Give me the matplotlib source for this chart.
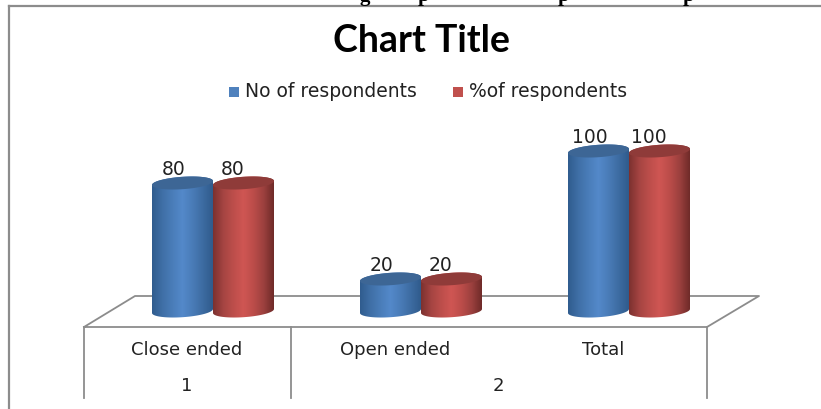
import matplotlib
matplotlib.use("Agg")
import matplotlib.pyplot as plt
import numpy as np
from matplotlib.colors import LinearSegmentedColormap
from matplotlib.patches import PathPatch, Rectangle
from matplotlib.path import Path

categories = ["Close ended", "Open ended", "Total"]
groups = ["1", "2"]
series_names = ["No of respondents", "%of respondents"]
no_of_respondents = [80, 20, 100]
pct_of_respondents = [80, 20, 100]

W, H = 821, 409
GREY = "#8c8c8c"
TXT = "#222222"

# 1 value unit = 1.6 px, value 0 sits at pixel row 311
PX = 1.6
Y0 = 311


def vy(row):  # pixel row to value axis
	return (Y0 - row) / PX


fig = plt.figure(figsize=(W / 100, H / 100), dpi=100)
ax = fig.add_axes([0, 0, 1, 1])
ax.axis("off")

blue = LinearSegmentedColormap.from_list("b", ["#305c8e", "#3f6fa6", "#4a7db9", "#5489ca", "#4a7cb8", "#3d6ca2", "#305b8c"])
red = LinearSegmentedColormap.from_list("r", ["#7c312f", "#a54442", "#bd4e4b", "#cf5653", "#bc4d4a", "#9c403e", "#6f2b29"])
grad = np.linspace(0, 1, 128).reshape(1, -1)


def cylinder(cx, value, cmap, top_color):
	rx, ry, tilt = 30.5, 6.2 / PX, 2.0 / PX  # half width in px, rest in value units
	t = np.linspace(0, 2 * np.pi, 90)
	# side wall: bottom half of base ellipse then back over the top
	t_low = np.linspace(np.pi, 2 * np.pi, 45)
	t_up = np.linspace(0, np.pi, 45)
	xs = np.r_[cx + rx * np.cos(t_low), cx + rx * np.cos(t_up)]
	ys = np.r_[ry * np.sin(t_low) + tilt * np.cos(t_low), value + ry * np.sin(t_up) + tilt * np.cos(t_up)]
	body = PathPatch(Path(np.c_[xs, ys]), fc="none", ec="none", transform=ax.transData)
	ax.add_patch(body)
	im = ax.imshow(grad, cmap=cmap, aspect="auto", extent=(cx - rx, cx + rx, -10, value + 10), zorder=2)
	im.set_clip_path(body)
	ax.fill(cx + rx * np.cos(t), value + ry * np.sin(t) + tilt * np.cos(t), color=top_color, lw=0, zorder=3)


# floor of the 3d chart
floor_x = [84, 135, 759, 707, 84]
floor_y = [327, 296, 296, 327, 327]
ax.plot(floor_x, [vy(r) for r in floor_y], color=GREY, lw=1.3, zorder=1)
for x in [84, 291, 707]:
	ax.plot([x, x], [vy(327), vy(398)], color=GREY, lw=1.3, zorder=1)

for i in range(len(categories)):
	cx = 213 + 208 * i
	cylinder(cx - 30.5, no_of_respondents[i], blue, "#3d6695")
	ax.text(cx - 39.5, no_of_respondents[i] + 8.7, str(no_of_respondents[i]), ha="center", va="center", fontsize=13.5, color=TXT, zorder=5)
	cylinder(cx + 30.5, pct_of_respondents[i], red, "#8f3b39")
	ax.text(cx + 20, pct_of_respondents[i] + 8.7, str(pct_of_respondents[i]), ha="center", va="center", fontsize=13.5, color=TXT, zorder=5)
	ax.text(187 + 208 * i, vy(355), categories[i], ha="center", va="baseline", fontsize=13, color=TXT)

ax.text(187, vy(391), groups[0], ha="center", va="baseline", fontsize=13, color=TXT)
ax.text(498, vy(391), groups[1], ha="center", va="baseline", fontsize=13, color=TXT)

# chart title and legend
ax.text(421, vy(52.5), "Chart Title", ha="center", va="baseline", fontsize=27, fontweight="bold", family="Lato", color="black")
ax.add_patch(Rectangle((229, vy(97)), 9.5, 10 / PX, fc="#4f81bd", ec="none"))
ax.add_patch(Rectangle((453, vy(97)), 9.5, 10 / PX, fc="#c0504d", ec="none"))
ax.text(245, vy(97), series_names[0], ha="left", va="baseline", fontsize=13.5, color=TXT)
ax.text(469, vy(97), series_names[1], ha="left", va="baseline", fontsize=13.5, color=TXT)

# outer frame, open at right and bottom of the crop
ax.plot([8.5, 8.5], [vy(409), vy(6)], color=GREY, lw=1.6, zorder=1)
ax.plot([8.5, 821], [vy(6), vy(6)], color=GREY, lw=1.6, zorder=1)

# clipped line of page text above the frame
for x, ch in zip([365, 424, 564, 689], "gppp"):
	ax.text(x, vy(1), ch, ha="center", va="baseline", fontsize=15, fontweight="bold", family="Liberation Serif", color="black")

ax.set_xlim(0, W)
ax.set_ylim(vy(H), vy(0))
fig.savefig("out.png", dpi=100)
